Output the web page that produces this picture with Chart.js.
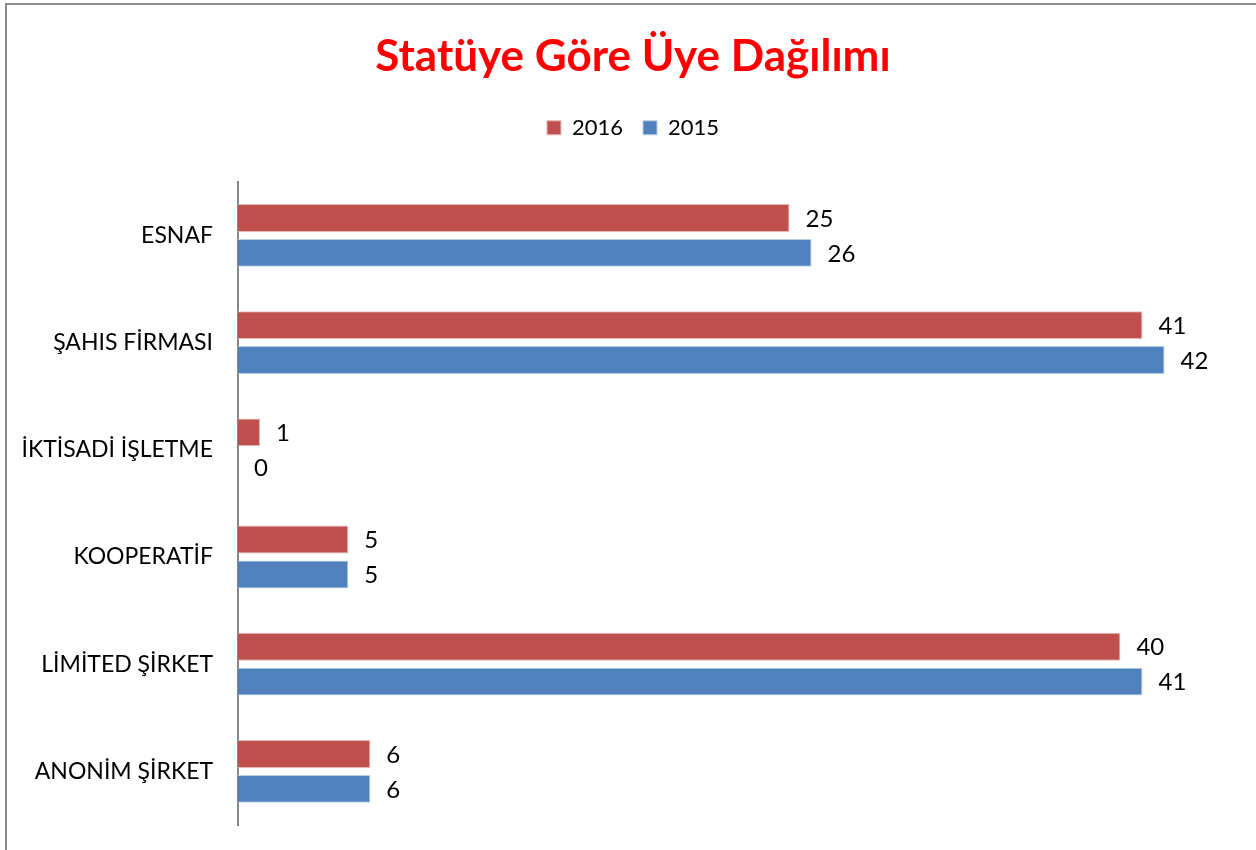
<!DOCTYPE html>
<html>
<head>
<meta charset="utf-8">
<script src="https://cdn.jsdelivr.net/npm/chart.js@4"></script>
<style>
  html, body { margin: 0; padding: 0; background: #fff; overflow: hidden; }
  #frame { position: absolute; left: 5px; top: 3px; width: 1300px; height: 900px; border: 2px solid #8c8c8c; }
  #wrap { position: absolute; left: 0; top: 0; width: 1256px; height: 850px; overflow: hidden; }
</style>
</head>
<body>
<div id="frame"></div>
<div id="wrap"><canvas id="myChart" width="1276" height="850"></canvas></div>
<script>
const categories = ['ESNAF', 'ŞAHIS FİRMASI', 'İKTİSADİ İŞLETME', 'KOOPERATİF', 'LİMİTED ŞİRKET', 'ANONİM ŞİRKET'];
const values2016 = [25, 41, 1, 5, 40, 6];
const values2015 = [26, 42, 0, 5, 41, 6];

const fontFamily = 'Lato, "Open Sans", sans-serif';

// draws the numbers at the end of each bar
const barLabels = {
  id: 'barLabels',
  afterDatasetsDraw(chart) {
    const c = chart.ctx;
    c.save();
    c.font = '24px ' + fontFamily;
    c.fillStyle = '#000';
    c.textBaseline = 'middle';
    c.textAlign = 'left';
    chart.data.datasets.forEach((ds, i) => {
      chart.getDatasetMeta(i).data.forEach((bar, j) => {
        c.fillText(String(ds.data[j]), bar.x + 16, bar.y + 1);
      });
    });
    c.restore();
  }
};

// extra room under the legend
const legendGap = {
  id: 'legendGap',
  beforeInit(chart) {
    const fit = chart.legend.fit;
    chart.legend.fit = function () {
      fit.bind(chart.legend)();
      this.height += 33;
    };
  }
};

const ctx = document.getElementById('myChart');

const chart = new Chart(ctx, {
  type: 'bar',
  data: {
    labels: categories,
    datasets: [{
      label: '2016',
      data: values2016,
      backgroundColor: '#C0504D',
      borderColor: '#E6B9B8',
      borderWidth: 1
    }, {
      label: '2015',
      data: values2015,
      backgroundColor: '#4F81BD',
      borderColor: '#B9CDE5',
      borderWidth: 1
    }]
  },
  options: {
    indexAxis: 'y',
    responsive: false,
    animation: false,
    categoryPercentage: 0.651,
    barPercentage: 0.8,
    layout: { padding: { left: 0, right: 10, top: 30, bottom: 25 } },
    plugins: {
      title: {
        display: true,
        text: 'Statüye Göre Üye Dağılımı',
        color: '#FF0000',
        font: { family: fontFamily, size: 44, weight: 'bold' },
        padding: { top: 0, bottom: 14 }
      },
      legend: {
        display: true,
        labels: {
          color: '#000',
          font: { family: fontFamily, size: 22 },
          boxWidth: 14,
          boxHeight: 14,
          padding: 20
        }
      },
      tooltip: { enabled: false }
    },
    scales: {
      x: {
        display: false,
        min: 0,
        max: 46.6
      },
      y: {
        afterFit(scale) {
          scale.width = 238;
          scale.paddingTop = 0;
          scale.paddingBottom = 0;
        },
        grid: { display: false },
        border: { display: true, color: '#868686', width: 2 },
        ticks: {
          color: '#000',
          font: { family: fontFamily, size: 23 },
          padding: 17
        }
      }
    }
  },
  plugins: [barLabels, legendGap]
});
</script>
</body>
</html>
